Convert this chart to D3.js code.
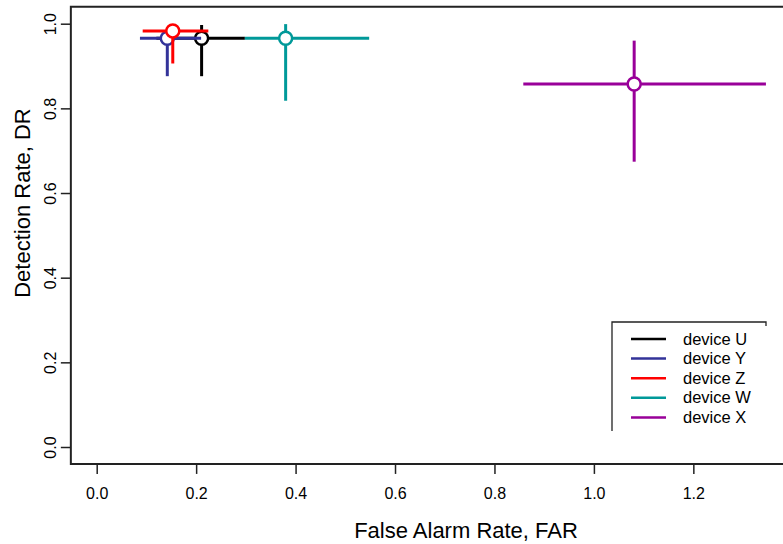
<!DOCTYPE html>
<html>
<head>
<meta charset="utf-8">
<script src="https://cdn.jsdelivr.net/npm/d3@7"></script>
<style>
  html, body { margin: 0; padding: 0; background: #fff; }
  svg { display: block; font-family: "Liberation Sans", Arial, sans-serif; }
</style>
</head>
<body>
<svg id="chart" width="783" height="544"></svg>
<script>
// ---- data ----
const devices = ["device U", "device Y", "device Z", "device W", "device X"];
const colors  = ["#000000", "#333399", "#ff0000", "#009999", "#990099"];
const far     = [0.211, 0.142, 0.153, 0.380, 1.081];
const farLow  = [0.120, 0.087, 0.0925, 0.298, 0.858];
const farHigh = [0.298, 0.210, 0.2245, 0.548, 1.346];
const dr      = [0.9655, 0.9655, 0.983, 0.9655, 0.8575];
const drLow   = [0.876, 0.876, 0.906, 0.818, 0.674];
const drHigh  = [0.997, 0.970, 0.990, 0.999, 0.960];
const xTicks  = [0.0, 0.2, 0.4, 0.6, 0.8, 1.0, 1.2];
const yTicks  = [0.0, 0.2, 0.4, 0.6, 0.8, 1.0];

const svg = d3.select("#chart");
const x = d3.scaleLinear().domain([0, 1]).range([96.7, 593.9]);
const y = d3.scaleLinear().domain([0, 1]).range([447, 23.7]);

const pLeft = x(-0.052), pRight = 800, pTop = y(1.04), pBottom = y(-0.04);

// frame (left, top, bottom)
const frame = svg.append("g").attr("stroke", "#222").attr("stroke-width", 2).attr("fill", "none");
frame.append("path").attr("d", `M${pRight},${pTop}H${pLeft}V${pBottom}H${pRight}`);

// x axis ticks + labels
const xa = svg.append("g").attr("transform", `translate(0,${pBottom})`)
  .call(d3.axisBottom(x).tickValues(xTicks).tickSize(10).tickPadding(0).tickFormat(d3.format(".1f")));
xa.select(".domain").remove();
xa.selectAll("line").attr("stroke", "#222").attr("stroke-width", 1.5);
xa.selectAll("text").attr("font-size", 16).attr("fill", "#000").attr("dy", null).attr("y", 35)
  .attr("font-family", "Liberation Sans, Arial, sans-serif");

// y axis ticks + labels
const ya = svg.append("g").attr("transform", `translate(${pLeft},0)`)
  .call(d3.axisLeft(y).tickValues(yTicks).tickSize(10).tickFormat(d3.format(".1f")));
ya.select(".domain").remove();
ya.selectAll("line").attr("stroke", "#222").attr("stroke-width", 1.5);
ya.selectAll("text").attr("font-size", 16).attr("fill", "#000")
  .attr("font-family", "Liberation Sans, Arial, sans-serif")
  .attr("x", null).attr("dy", null)
  .attr("text-anchor", "middle")
  .attr("transform", `translate(${56 - pLeft},0) rotate(-90)`);

// axis titles
svg.append("text").attr("x", 466).attr("y", 538).attr("text-anchor", "middle")
  .attr("font-size", 22).text("False Alarm Rate, FAR");
svg.append("text").attr("transform", "translate(30,203) rotate(-90)").attr("text-anchor", "middle")
  .attr("font-size", 22).text("Detection Rate, DR");

// crosses
const data = devices.map((d, i) => ({
  name: d, color: colors[i], far: far[i], farLow: farLow[i], farHigh: farHigh[i],
  dr: dr[i], drLow: drLow[i], drHigh: drHigh[i]
}));
const g = svg.append("g");
data.forEach(d => {
  const c = g.append("g");
  c.append("line").attr("x1", x(d.farLow)).attr("x2", x(d.farHigh))
    .attr("y1", y(d.dr)).attr("y2", y(d.dr))
    .attr("stroke", d.color).attr("stroke-width", 3);
  c.append("line").attr("x1", x(d.far)).attr("x2", x(d.far))
    .attr("y1", y(d.drLow)).attr("y2", y(d.drHigh))
    .attr("stroke", d.color).attr("stroke-width", 3);
  c.append("circle").attr("cx", x(d.far)).attr("cy", y(d.dr)).attr("r", 6.5)
    .attr("fill", "#fff").attr("stroke", d.color).attr("stroke-width", 2.5);
});

// legend
const lg = svg.append("g");
lg.append("path").attr("d", "M612,431V322H766V326").attr("fill", "none")
  .attr("stroke", "#222").attr("stroke-width", 1.3);
data.forEach((d, i) => {
  const yy = 339 + i * 19.6;
  lg.append("line").attr("x1", 631).attr("x2", 666).attr("y1", yy).attr("y2", yy)
    .attr("stroke", d.color).attr("stroke-width", 2.5);
  lg.append("text").attr("x", 683).attr("y", yy + 5.5).attr("font-size", 16.5)
    .text(d.name);
});
</script>
</body>
</html>
